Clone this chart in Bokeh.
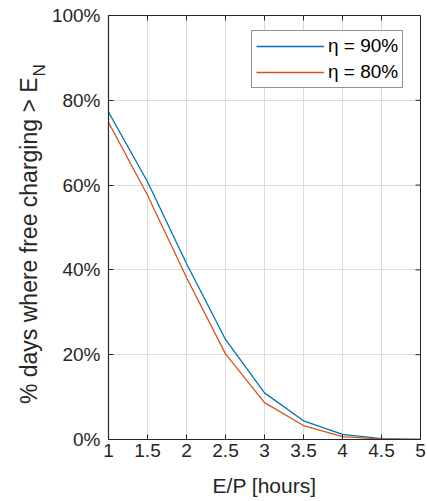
import math
from bokeh.plotting import figure
from bokeh.layouts import row
from bokeh.core.properties import value
from bokeh.models import (Legend, LegendItem, FixedTicker,
                          NumeralTickFormatter, PrintfTickFormatter, Range1d)
from bokeh.embed import file_html
from bokeh.resources import INLINE

# ---- data ----
ep_hours = [1, 1.5, 2, 2.5, 3, 3.5, 4, 4.5, 5]
eta90_pct = [77.2, 60.8, 41.5, 23.6, 11.0, 4.4, 1.2, 0.2, 0.0]
eta80_pct = [74.8, 57.6, 38.2, 20.2, 8.7, 3.3, 0.7, 0.1, 0.0]
series_labels = ["\u03b7 = 90%", "\u03b7 = 80%"]
series_colors = ["#0072BD", "#D95319"]
x_ticks = [1, 1.5, 2, 2.5, 3, 3.5, 4, 4.5, 5]
y_ticks = [0, 20, 40, 60, 80, 100]
x_label = "E/P [hours]"
y_label_main = "% days where free charging > E"
y_label_sub = "N"

FONT = "Liberation Sans"
AX = "#262626"

X0, X1, Y0, Y1 = 1, 5, 0, 100
LW = 48                    # width of the strip holding the y label
FW, FH = 313, 424          # frame size in px
BL, BR, BT, BB = 107 - LW, 7, 15, 61
H = BT + FH + BB

# ---- y-label strip (pixel-coordinate canvas) ----
lab = figure(width=LW, height=H, output_backend="svg", toolbar_location=None,
             x_range=Range1d(0, LW), y_range=Range1d(0, H),
             x_axis_type=None, y_axis_type=None,
             min_border_left=0, min_border_right=0, min_border_top=0, min_border_bottom=0)
lab.outline_line_color = None
lab.grid.visible = False
lab.background_fill_color = "white"
lab.border_fill_color = "white"
lab.text(x=[28], y=[H - 73], text=[y_label_main], angle=math.pi / 2,
         text_align="right", text_baseline="alphabetic",
         text_font=value(FONT), text_font_size="23px", text_color=AX)
lab.text(x=[39], y=[H - 72], text=[y_label_sub], angle=math.pi / 2,
         text_align="left", text_baseline="alphabetic",
         text_font=value(FONT), text_font_size="17px", text_color=AX)

# ---- main chart ----
p = figure(width=BL + FW + BR, height=H, output_backend="svg", toolbar_location=None,
           x_range=Range1d(X0, X1), y_range=Range1d(Y0, Y1),
           min_border_left=BL, min_border_right=BR, min_border_top=BT, min_border_bottom=BB)
p.outline_line_color = AX
p.outline_line_width = 1
p.background_fill_color = "white"
p.border_fill_color = "white"

p.xgrid.ticker = FixedTicker(ticks=x_ticks)
p.ygrid.ticker = FixedTicker(ticks=y_ticks)
p.grid.grid_line_color = "#dcdcdc"
p.grid.grid_line_width = 1

for ax in (p.xaxis[0], p.yaxis[0]):
    ax.axis_line_color = AX
    ax.axis_line_width = 1.2
    ax.major_tick_line_color = AX
    ax.major_tick_in = 5
    ax.major_tick_out = 0
    ax.minor_tick_line_color = None
    ax.major_label_text_font = FONT
    ax.major_label_text_font_size = "19px"
    ax.major_label_text_color = AX

p.xaxis.ticker = FixedTicker(ticks=x_ticks)
p.xaxis.formatter = NumeralTickFormatter(format="0.[0]")
p.xaxis.major_label_standoff = 4
p.xaxis.axis_label = x_label
p.xaxis.axis_label_text_font = FONT
p.xaxis.axis_label_text_font_size = "21px"
p.xaxis.axis_label_text_font_style = "normal"
p.xaxis.axis_label_text_color = AX
p.xaxis.axis_label_standoff = 14

p.yaxis.ticker = FixedTicker(ticks=y_ticks)
p.yaxis.formatter = PrintfTickFormatter(format="%d%%")
p.yaxis.major_label_standoff = 8

# inward ticks on the top and right edges (box on), derived from the tick lists
tick_len_y = 5 * (Y1 - Y0) / FH
tick_len_x = 5 * (X1 - X0) / FW
p.segment(x0=x_ticks, y0=[Y1] * len(x_ticks), x1=x_ticks, y1=[Y1 - tick_len_y] * len(x_ticks),
          line_color=AX, line_width=1)
p.segment(x0=[X1] * len(y_ticks), y0=y_ticks, x1=[X1 - tick_len_x] * len(y_ticks), y1=y_ticks,
          line_color=AX, line_width=1)

r90 = p.line(ep_hours, eta90_pct, line_color=series_colors[0], line_width=1.3)
r80 = p.line(ep_hours, eta80_pct, line_color=series_colors[1], line_width=1.3)

legend = Legend(items=[LegendItem(label=series_labels[0], renderers=[r90]),
                       LegendItem(label=series_labels[1], renderers=[r80])],
                location=(143, 351), orientation="vertical",
                label_text_font=FONT, label_text_font_size="19px", label_text_color="black",
                glyph_width=68, glyph_height=20, label_standoff=4, label_height=20,
                padding=4, spacing=4, margin=0,
                border_line_color=AX, border_line_width=1, background_fill_color="white",
                background_fill_alpha=1.0)
p.add_layout(legend, "center")

layout = row(lab, p, spacing=0)
open("out.html", "w").write(file_html(layout, INLINE))
